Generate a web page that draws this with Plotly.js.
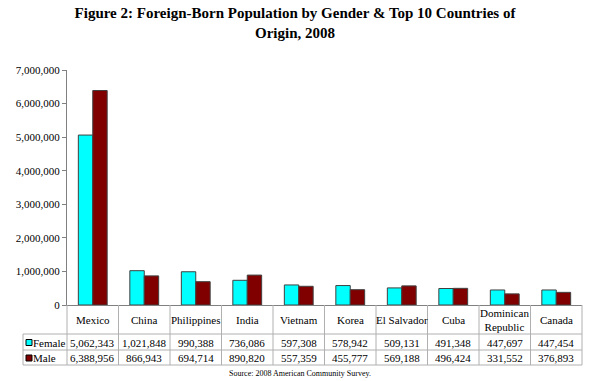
<!DOCTYPE html>
<html>
<head>
<meta charset="utf-8">
<script src="https://cdn.plot.ly/plotly-3.0.1.min.js"></script>
<style>html,body{margin:0;padding:0;background:#fff;}#chart{width:590px;height:381px;}</style>
</head>
<body>
<div id="chart"></div>
<script>
const categories = ["Mexico","China","Philippines","India","Vietnam","Korea","El Salvador","Cuba","Dominican Republic","Canada"];
const categoryLabels = ["Mexico","China","Philippines","India","Vietnam","Korea","El Salvador","Cuba","Dominican<br>Republic","Canada"];
const female = [5062343,1021848,990388,736086,597308,578942,509131,491348,447697,447454];
const male = [6388956,866943,694714,890820,557359,455777,569188,496424,331552,376893];
const seriesNames = ["Female","Male"];
const seriesColors = ["#00FFFF","#800000"];
const titleLine1 = "Figure 2: Foreign-Born Population by Gender & Top 10 Countries of";
const titleLine2 = "Origin, 2008";
const sourceText = "Source: 2008 American Community Survey.";

const W = 590, H = 381;
const L = 67, R = 8, T = 70, B = 76;
const plotH = H - T - B;
const plotW = W - L - R;
const py = p => (H - B - p) / plotH;   // pixel y -> paper y
const px = p => (p - L) / plotW;       // pixel x -> paper x

const FONT = "Liberation Serif, Times New Roman, serif";
const idx = categories.map((c, i) => i);

const traces = [female, male].map((vals, s) => ({
  type: "bar",
  name: seriesNames[s],
  x: idx,
  y: vals,
  marker: {color: seriesColors[s], line: {color: "#404040", width: 1}},
  hoverinfo: "skip"
}));

const n = categories.length;
const gridColor = "#b0b0b0";
const shapes = [];
const rowTop = py(334), rowMid = py(350), rowBot = py(365);
for (let i = 0; i <= n; i++) {
  shapes.push({type: "line", xref: "paper", yref: "paper", x0: i / n, x1: i / n, y0: 0, y1: rowBot,
    line: {color: gridColor, width: 1}});
}
[rowTop, rowMid, rowBot].forEach(y => {
  shapes.push({type: "line", xref: "paper", yref: "paper", x0: px(23), x1: 1, y0: y, y1: y,
    line: {color: gridColor, width: 1}});
});
shapes.push({type: "line", xref: "paper", yref: "paper", x0: px(23), x1: px(23), y0: rowTop, y1: rowBot,
  line: {color: gridColor, width: 1}});
const rowCenters = [py(342.5), py(358)];
seriesNames.forEach((nm, s) => {
  shapes.push({type: "rect", xref: "paper", yref: "paper",
    x0: px(26), x1: px(32), y0: rowCenters[s] - 3 / plotH, y1: rowCenters[s] + 3 / plotH,
    fillcolor: seriesColors[s], line: {color: "#000", width: 1}});
});

const annotations = [];
const tf = {family: FONT, size: 11, color: "#000"};
categoryLabels.forEach((c, i) => {
  annotations.push({xref: "x", yref: "paper", x: i, y: py(319.5), text: c, showarrow: false,
    font: tf, yanchor: "middle", xanchor: "center", align: "center"});
});
[female, male].forEach((vals, s) => {
  vals.forEach((v, i) => {
    annotations.push({xref: "x", yref: "paper", x: i, y: rowCenters[s], text: v.toLocaleString("en-US"),
      showarrow: false, font: tf, yanchor: "middle", xanchor: "center"});
  });
  annotations.push({xref: "paper", yref: "paper", x: px(33), y: rowCenters[s], text: seriesNames[s],
    showarrow: false, font: tf, yanchor: "middle", xanchor: "left", xshift: -2});
});
annotations.push({xref: "paper", yref: "paper", x: px(300), y: py(373.5), text: sourceText, showarrow: false,
  font: {family: FONT, size: 8, color: "#000"}, yanchor: "middle", xanchor: "center"});

const layout = {
  width: W, height: H,
  margin: {l: L, r: R, t: T, b: B, pad: 0},
  paper_bgcolor: "#fff", plot_bgcolor: "#fff",
  title: {text: "<b>" + titleLine1 + "<br>" + titleLine2 + "</b>", x: 295 / W, xanchor: "center",
    y: 1 - 18 / H, yanchor: "middle",
    font: {family: FONT, size: 15, color: "#000"}},
  showlegend: false,
  barmode: "group",
  bargap: 0.44,
  bargroupgap: 0,
  xaxis: {range: [-0.5, n - 0.5], showticklabels: false, ticks: "", showgrid: false, zeroline: false,
    showline: true, linecolor: "#808080", linewidth: 1, fixedrange: true},
  yaxis: {range: [0, 7000000], dtick: 1000000, tick0: 0, tickformat: ",d", showgrid: false, zeroline: false,
    showline: true, linecolor: "#808080", linewidth: 1, ticks: "outside", ticklen: 4, tickcolor: "#808080",
    tickfont: {family: FONT, size: 11, color: "#000"}, fixedrange: true},
  shapes: shapes,
  annotations: annotations
};

Plotly.newPlot("chart", traces, layout, {displayModeBar: false, staticPlot: true});
</script>
</body>
</html>
